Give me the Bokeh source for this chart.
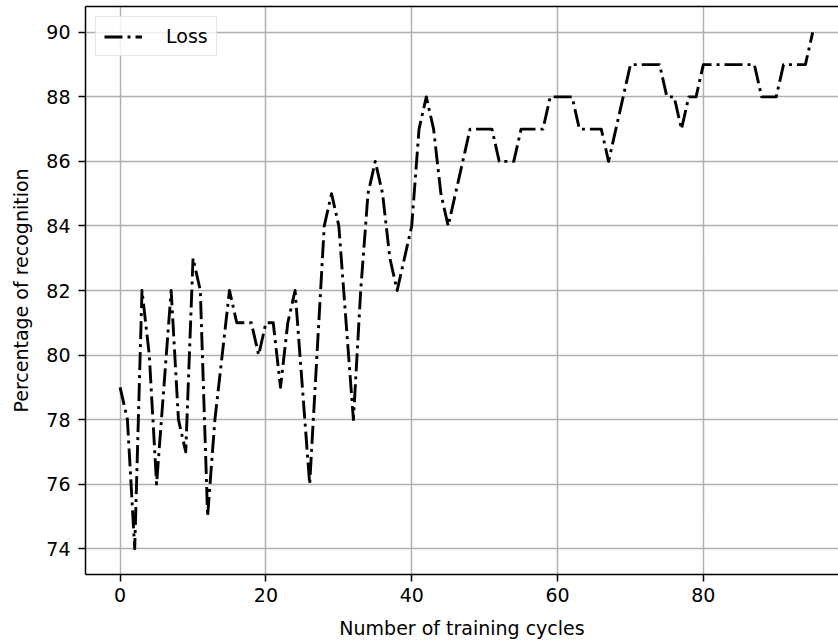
from bokeh.plotting import figure
from bokeh.models import Range1d, FixedTicker, Legend, LegendItem, LinearAxis
from bokeh.embed import file_html
from bokeh.resources import INLINE

# ---- data ----
training_cycles = list(range(96))
recognition = [
    79, 78, 74, 82, 80, 76, 79, 82, 78, 77,
    83, 82, 75, 78, 80, 82, 81, 81, 81, 80,
    81, 81, 79, 81, 82, 79, 76, 80, 84, 85,
    84, 81, 78, 82, 85, 86, 85, 83, 82, 83,
    84, 87, 88, 87, 85, 84, 85, 86, 87, 87,
    87, 87, 86, 86, 86, 87, 87, 87, 87, 88,
    88, 88, 88, 87, 87, 87, 87, 86, 87, 88,
    89, 89, 89, 89, 89, 88, 88, 87, 88, 88,
    89, 89, 89, 89, 89, 89, 89, 89, 88, 88,
    88, 89, 89, 89, 89, 90,
]
x_ticks = [0, 20, 40, 60, 80]
y_ticks = [74, 76, 78, 80, 82, 84, 86, 88, 90]
series_label = "Loss"
x_label = "Number of training cycles"
y_label = "Percentage of recognition"

FONT = "DejaVu Sans"

p = figure(
    frame_width=753, frame_height=568,
    x_range=Range1d(-4.75, 98.54), y_range=Range1d(73.2, 90.8),
    output_backend="svg", toolbar_location=None,
    min_border_left=85, min_border_right=0, min_border_top=6, min_border_bottom=66,
)
p.background_fill_color = "white"
p.border_fill_color = "white"
# the reference is cropped on the right: no right spine visible
p.outline_line_color = None

r = p.line(training_cycles, recognition, line_color="black", line_width=2.9,
           line_dash="18 5 3 5", line_cap="butt", line_join="round")

p.xaxis.ticker = FixedTicker(ticks=x_ticks)
p.yaxis.ticker = FixedTicker(ticks=y_ticks)
p.xgrid.ticker = FixedTicker(ticks=x_ticks)
p.ygrid.ticker = FixedTicker(ticks=y_ticks)
for g in (p.xgrid, p.ygrid):
    g.grid_line_color = "#b0b0b0"
    g.grid_line_width = 1.5

for ax in (p.xaxis, p.yaxis):
    ax.axis_line_color = "black"
    ax.axis_line_width = 1.5
    ax.major_tick_line_color = "black"
    ax.major_tick_line_width = 1.5
    ax.major_tick_out = 7
    ax.major_tick_in = 0
    ax.minor_tick_line_color = None
    ax.major_label_text_font = FONT
    ax.major_label_text_font_size = "19px"
    ax.major_label_text_color = "black"
    ax.axis_label_text_font = FONT
    ax.axis_label_text_font_size = "19px"
    ax.axis_label_text_font_style = "normal"
    ax.axis_label_text_color = "black"

p.xaxis.major_label_standoff = 6
p.yaxis.major_label_standoff = 8
p.xaxis.axis_label = x_label
p.yaxis.axis_label = y_label
p.xaxis.axis_label_standoff = 12
p.yaxis.axis_label_standoff = 11

# top spine
top_spine = LinearAxis(ticker=FixedTicker(ticks=[]), axis_line_color="black",
                       axis_line_width=1.5, major_tick_line_color=None,
                       minor_tick_line_color=None, major_label_text_font_size="0px",
                       major_tick_out=0, major_label_standoff=0)
p.add_layout(top_spine, "above")

legend = Legend(items=[LegendItem(label=series_label, renderers=[r])],
                location="top_left")
legend.margin = 10
legend.padding = 8
legend.glyph_width = 38
legend.glyph_height = 21
legend.label_height = 21
legend.label_standoff = 24
legend.label_text_font = FONT
legend.label_text_font_size = "19px"
legend.label_text_color = "black"
legend.border_line_color = "#cccccc"
legend.border_line_width = 1
legend.background_fill_color = "white"
legend.background_fill_alpha = 0.8
p.add_layout(legend)

open("out.html", "w").write(file_html(p, INLINE))
